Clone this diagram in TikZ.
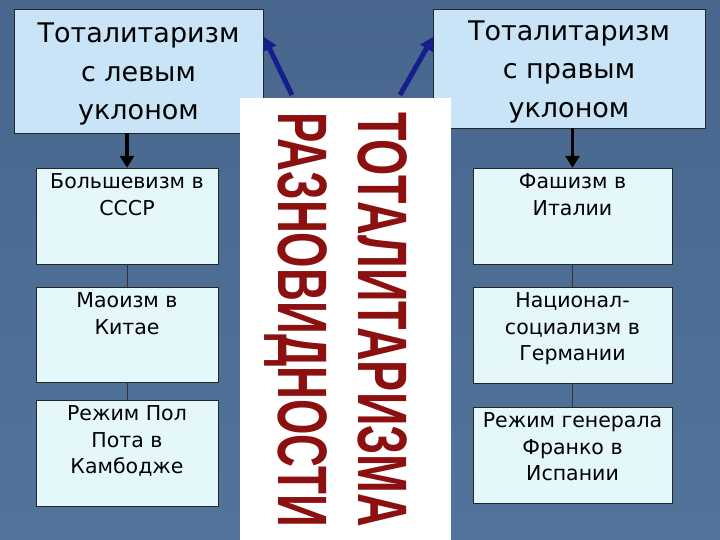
\documentclass[tikz,border=0pt]{standalone}
\usepackage{fontspec}
\setmainfont{DejaVu Sans}
\newfontfamily\posterfont{Liberation Sans}
\usetikzlibrary{
    arrows.meta,
    positioning
}
\definecolor{slatetop}{RGB}{72,102,142}
\definecolor{slatebottom}{RGB}{82,116,154}
\definecolor{headfill}{RGB}{200,228,246}
\definecolor{subfill}{RGB}{228,247,250}
\definecolor{posterred}{RGB}{140,16,16}
\definecolor{arrowblue}{RGB}{22,30,140}
\tikzset{
    % Boxes
    head box/.style={draw=black!85,fill=headfill,minimum width=#1},
    head text/.style={anchor=center,yshift=-3,align=center,inner sep=0pt,
        font=\fontsize{27}{38.5}\selectfont},
    sub box/.style={draw=black!85,fill=subfill,minimum width=#1},
    sub box/.default=182,
    sub text/.style={anchor=north,yshift=-6,align=center,inner sep=0pt,
        font=\fontsize{20.5}{26.5}\selectfont},
    panel/.style={fill=white,inner sep=0pt,anchor=south west},
    kind text/.style={rotate=-90,anchor=base west,inner sep=0pt,text=posterred,
        font=\posterfont\bfseries\fontsize{70}{70}\selectfont},
    %
    % Arrows
    down arrow/.style={-{Triangle[length=12pt,width=14pt]},line width=3.5pt,black},
    up arrow/.style={-{Triangle[length=13pt,width=14pt]},line width=5pt,arrowblue},
    link/.style={black!80,thin}
}
\tikzstyle{every node}=[inner sep=0pt]

\begin{document}
\begin{tikzpicture}[x=1pt,y=1pt]
        \shade[top color=slatetop,bottom color=slatebottom] (0,0) rectangle (720,540);
        \useasboundingbox (0,0) rectangle (720,540);

        % two heads
        \node[head box=249,minimum height=124,label={[head text]center:{Тоталитаризм\\с левым\\уклоном}}] (left head) at (138.5,469) {};
        \node[head box=272,minimum height=119,label={[head text]center:{Тоталитаризм\\с правым\\уклоном}}] (right head) at (569,471.5) {};

        % left column
        \node[sub box,minimum height=96,label={[sub text]north:{Большевизм в\\СССР}}] (left one) at (127,324) {};
        \node[sub box,minimum height=95,label={[sub text]north:{Маоизм в\\Китае}}] (left two) at (127,205.5) {};
        \node[sub box,minimum height=106,label={[sub text]north:{Режим Пол\\Пота в\\Камбодже}}] (left three) at (127,87) {};

        % right column
        \node[sub box=199,minimum height=96,label={[sub text]north:{Фашизм в\\Италии}}] (right one) at (572.5,324) {};
        \node[sub box=199,minimum height=96,label={[sub text]north:{Национал-\\социализм в\\Германии}}] (right two) at (572.5,205) {};
        \node[sub box=199,minimum height=96,label={[sub text]north:{Режим генерала\\Франко в\\Испании}}] (right three) at (572.5,85) {};

        \draw[link] (left one) -- (left two);
        \draw[link] (left two) -- (left three);
        \draw[link] (right one) -- (right two);
        \draw[link] (right two) -- (right three);

        \draw[down arrow] (left head.south -| left one.north) -- (left one.north);
        \draw[down arrow] (right head.south -| right one.north) -- (right one.north);

        \coordinate (left tail) at (292,445);
        \coordinate (left tip) at (264,503);
        \coordinate (right tail) at (400,445);
        \coordinate (right tip) at (433,503);
        \draw[up arrow] (left tail) -- (left tip);
        \draw[up arrow] (right tail) -- (right tip);

        % white panel with the vertical title
        \node[panel,minimum width=211,minimum height=442] (panel) at (240,0) {};
        \node[kind text] (kind word) at (278,428) {\resizebox{415pt}{\height}{РАЗНОВИДНОСТИ}};
        \node[kind text] (total word) at (358,428) {\resizebox{415pt}{\height}{ТОТАЛИТАРИЗМА}};
    \end{tikzpicture}
\end{document}
